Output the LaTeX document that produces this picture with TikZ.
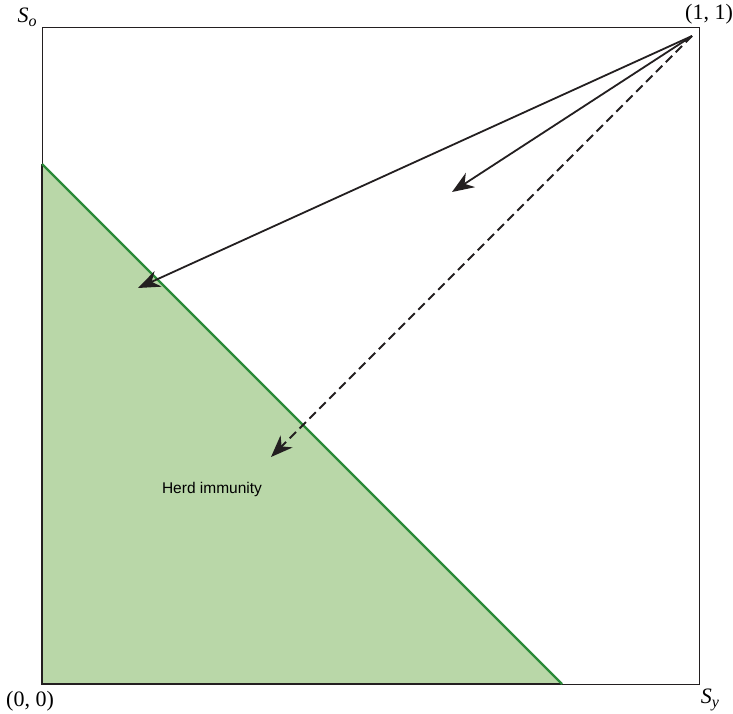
\documentclass[tikz,border=0pt]{standalone}
\usepackage{fontspec}
\setmainfont{Liberation Serif}
\newfontfamily\labelsans{Liberation Sans}
\usetikzlibrary{arrows.meta}
\definecolor{herdfill}{HTML}{B9D7A8}
\definecolor{herdline}{HTML}{2A8A38}
\definecolor{inkdark}{HTML}{231F20}
\tikzset{
  flow/.style={draw=inkdark, line width=1.8pt, -{Stealth[length=22pt,width=17pt,inset=7pt]}},
  flowdash/.style={flow, dash pattern=on 9pt off 5pt},
  corner/.style={inner sep=0pt, font=\fontsize{22}{24}\selectfont},
}
\begin{document}
\begin{tikzpicture}[x=1pt,y=-1pt]
\useasboundingbox (0,0) rectangle (733,714);
% frame
\draw[line width=1pt, draw=inkdark] (42,28) rectangle (699,684);
% herd immunity region
\fill[herdfill] (42,164) -- (562,684) -- (42,684) -- cycle;
\draw[line width=2.2pt, draw=inkdark] (42,164) -- (42,684) -- (562,684);
\draw[line width=2.2pt, draw=herdline] (42,164) -- (562,684);
% nodes
\coordinate (start) at (692,36);
\coordinate (tipA) at (138,288);
\coordinate (tipB) at (452,192);
\coordinate (tipC) at (271,457);
\draw[flow] (start) -- (tipA);
\draw[flow] (start) -- (tipB);
\draw[flowdash] (start) -- (tipC);
% labels
\node[font=\labelsans\fontsize{15.5}{18}\selectfont] (herd) at (212,489) {Herd immunity};
\node[corner] (so) at (27,17) {\textit{S}\raisebox{-4pt}{\fontsize{16}{17}\selectfont\textit{o}}};
\node[corner] (one) at (709,14) {(1, 1)};
\node[corner] (zero) at (30,701) {(0, 0)};
\node[corner] (sy) at (710,700) {\textit{S}\raisebox{-4pt}{\fontsize{16}{17}\selectfont\textit{y}}};
\end{tikzpicture}
\end{document}
